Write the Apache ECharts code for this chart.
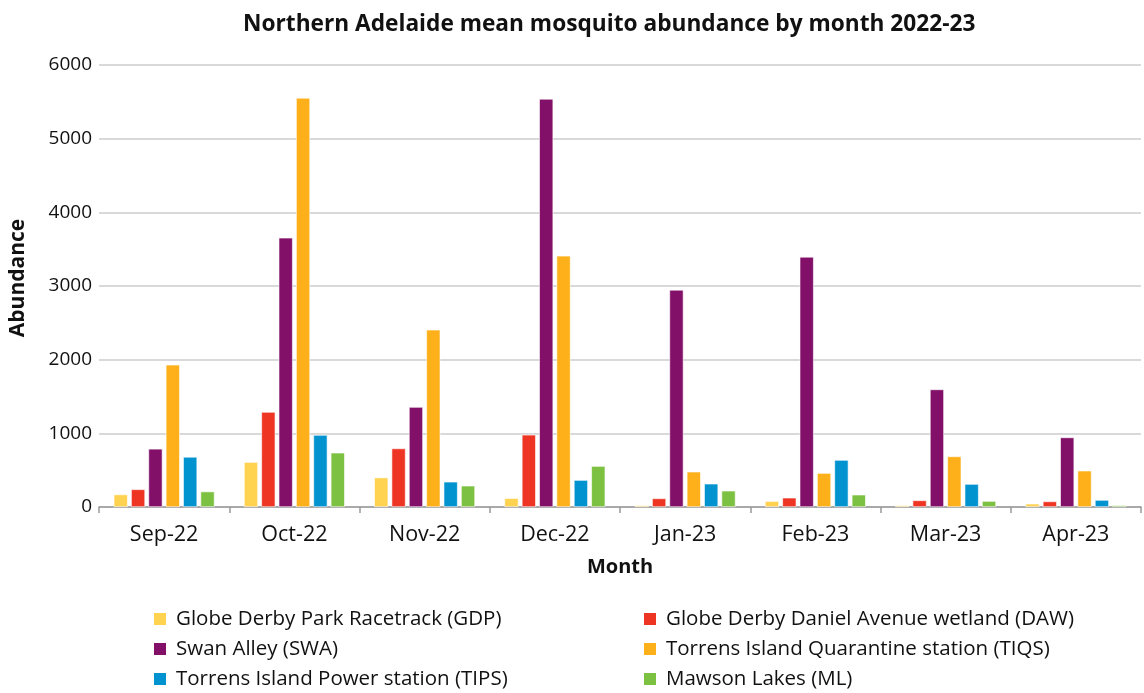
<!DOCTYPE html>
<html>
<head>
<meta charset="utf-8">
<script src="https://cdn.jsdelivr.net/npm/echarts@6/dist/echarts.min.js"></script>
<style>
  html, body { margin: 0; padding: 0; background: #fff; }
  #chart { width: 1144px; height: 693px; }
</style>
</head>
<body>
<div id="chart"></div>
<script>
// Monthly categories
const months = ['Sep-22', 'Oct-22', 'Nov-22', 'Dec-22', 'Jan-23', 'Feb-23', 'Mar-23', 'Apr-23'];

// Mean mosquito abundance per trap site
const gdp  = [170, 610, 400, 120, 22, 80, 22, 45];
const daw  = [240, 1290, 795, 980, 117, 126, 90, 76];
const swa  = [790, 3655, 1357, 5540, 2948, 3396, 1596, 944];
const tiqs = [1931, 5554, 2406, 3410, 479, 461, 687, 493];
const tips = [680, 977, 343, 366, 316, 638, 312, 95];
const ml   = [210, 737, 289, 556, 221, 167, 81, 22];

const siteNames = [
  'Globe Derby Park Racetrack (GDP)',
  'Globe Derby Daniel Avenue wetland (DAW)',
  'Swan Alley (SWA)',
  'Torrens Island Quarantine station (TIQS)',
  'Torrens Island Power station (TIPS)',
  'Mawson Lakes (ML)'
];
const siteValues = [gdp, daw, swa, tiqs, tips, ml];
const siteColors = ['#FFD24F', '#EE3524', '#820F68', '#FDB019', '#0093D0', '#7DC142'];

// Y-axis ticks
const yTicks = [0, 1000, 2000, 3000, 4000, 5000, 6000];

const font = '"Open Sans", sans-serif';

const chart = echarts.init(document.getElementById('chart'));

const series = siteNames.map((name, i) => ({
  name: name,
  type: 'bar',
  data: siteValues[i],
  barWidth: 14,
  barGap: '24%',
  itemStyle: { color: siteColors[i], borderColor: '#fff', borderWidth: 0.6 }
}));

// Legend: two columns of three rows, one legend block per entry
const legendCols = [147, 637];
const legendRows = [603, 633, 663];
const legends = siteNames.map((name, i) => ({
  data: [name],
  left: legendCols[i % 2],
  top: legendRows[Math.floor(i / 2)],
  itemWidth: 14,
  itemHeight: 14,
  icon: 'rect',
  textStyle: { fontFamily: font, fontSize: 20.5, lineHeight: 22, color: '#111', padding: [0, 0, 0, 4] }
}));

chart.setOption({
  animation: false,
  backgroundColor: '#fff',
  title: {
    text: 'Northern Adelaide mean mosquito abundance by month 2022-23',
    left: 238,
    top: 8,
    textStyle: { fontFamily: font, fontSize: 22.7, fontWeight: 'bold', color: '#111' }
  },
  legend: legends,
  grid: { left: 99, right: 3, top: 65, bottom: 186, containLabel: false },
  xAxis: {
    type: 'category',
    data: months,
    name: 'Month',
    nameLocation: 'middle',
    nameGap: 50,
    nameTextStyle: { fontFamily: font, fontSize: 20, fontWeight: 'bold', color: '#111' },
    axisLine: { lineStyle: { color: '#999', width: 1.5 } },
    axisTick: { show: true, length: 6, lineStyle: { color: '#999', width: 1.5 } },
    axisLabel: { fontFamily: font, fontSize: 21.5, color: '#111', margin: 17 }
  },
  yAxis: {
    type: 'value',
    min: yTicks[0],
    max: yTicks[yTicks.length - 1],
    interval: 1000,
    name: 'Abundance',
    nameLocation: 'middle',
    nameGap: 70,
    nameRotate: 90,
    nameTextStyle: { fontFamily: font, fontSize: 21, fontWeight: 'bold', color: '#111', padding: [0, 0, 0, 16] },
    axisLine: { show: false },
    axisTick: { show: false },
    splitLine: { lineStyle: { color: '#ccc', width: 1.5 } },
    axisLabel: {
      fontFamily: font, fontSize: 19, color: '#111', margin: 7,
      formatter: (v) => String(v)
    }
  },
  series: series
});
</script>
</body>
</html>
